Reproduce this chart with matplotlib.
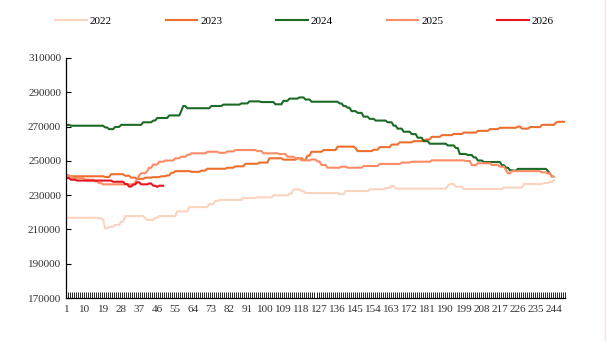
import numpy as np
import matplotlib
matplotlib.use("Agg")
import matplotlib.pyplot as plt
from matplotlib.lines import Line2D

# categories 1..249 (trading days)
n_days = 249
days = np.arange(1, n_days + 1)
tick_days = list(range(1, 245, 9))

# each series: day where a level starts, the level, and the last day
start_2022 = [1, 17, 19, 20, 22, 25, 28, 30, 40, 41, 45, 47, 56, 62, 72, 75, 77, 89, 96,
              104, 112, 114, 118, 120, 137, 140, 152, 160, 163, 165, 191, 192, 195, 199,
              219, 229, 239, 242, 244]
level_2022 = [216800, 216500, 215900, 210700, 211500, 212600, 214500, 217800, 216500,
              215500, 216800, 217800, 220500, 223000, 224800, 226600, 227200, 228300,
              228700, 229900, 230800, 233300, 232400, 231200, 230600, 232400, 233400,
              234200, 235300, 233800, 235300, 236500, 234900, 233600, 234400, 236500,
              237100, 237700, 238800]
end_2022 = 244

start_2023 = [1, 3, 20, 23, 30, 33, 36, 40, 44, 48, 51, 53, 55, 63, 68, 71, 81, 85, 90, 97,
              102, 109, 116, 119, 121, 123, 129, 136, 145, 146, 154, 157, 163, 167, 174,
              180, 183, 188, 194, 199, 206, 212, 217, 226, 228, 232, 238, 245, 246]
level_2023 = [241500, 241000, 240600, 242200, 241300, 240200, 239500, 240200, 240500,
              241000, 241500, 243000, 244000, 243600, 244300, 245400, 246000, 246800,
              248300, 249000, 251500, 250700, 251500, 250500, 253000, 255300, 256300,
              258300, 257500, 255700, 256500, 258000, 259500, 260800, 261500, 262500,
              264000, 265000, 265700, 266500, 267500, 268500, 269300, 270000, 268800,
              269700, 271000, 272300, 272800]
end_2023 = 249

start_2024 = [1, 3, 20, 22, 25, 28, 39, 44, 46, 52, 58, 59, 61, 73, 79, 88, 92, 98, 105,
              109, 112, 117, 120, 123, 137, 139, 141, 143, 146, 149, 152, 155, 161, 164,
              166, 169, 173, 176, 179, 182, 191, 195, 197, 201, 204, 206, 209, 218, 220,
              222, 224, 226, 241, 242, 243]
level_2024 = [271000, 270500, 269500, 268500, 269800, 271000, 272500, 273500, 275000,
              276500, 279000, 282000, 280700, 282000, 282800, 283500, 284700, 284300,
              283000, 285000, 286300, 287000, 285800, 284500, 283500, 282000, 281000,
              279000, 278000, 275800, 274500, 273500, 272500, 270500, 268800, 267000,
              265600, 263500, 261500, 260000, 259000, 257500, 254000, 253400, 252000,
              250200, 249300, 247500, 246000, 244500, 244300, 245300, 244000, 242500,
              241000]
end_2024 = 243

start_2025 = [1, 4, 10, 15, 17, 19, 35, 36, 37, 38, 41, 42, 44, 47, 50, 55, 58, 61, 63, 71,
              77, 81, 85, 96, 99, 107, 111, 115, 118, 123, 126, 128, 131, 138, 141, 149,
              157, 168, 173, 183, 200, 203, 206, 213, 217, 220, 221, 223, 238, 241, 243]
level_2025 = [241000, 240000, 239000, 238000, 237000, 236300, 237500, 239500, 241500,
              242800, 244000, 246000, 247800, 249500, 250200, 251500, 252400, 253500,
              254400, 255300, 254700, 255500, 256300, 255700, 254400, 254000, 252400,
              251500, 250300, 250800, 249600, 247600, 246000, 246600, 246000, 247000,
              248200, 249000, 249500, 250300, 249900, 247500, 248600, 247600, 246600,
              244800, 242700, 244000, 243300, 242700, 240800]
end_2025 = 244

start_2026 = [1, 3, 6, 24, 30, 32, 34, 36, 38, 42, 44, 46, 47]
level_2026 = [240000, 239000, 238500, 237800, 236500, 235000, 236200, 237500, 236300,
              236800, 235500, 234800, 235500]
end_2026 = 49

years = ["2022", "2023", "2024", "2025", "2026"]
colors = ["#FBD3BE", "#EE6F2D", "#1B6B27", "#FF8A66", "#E8141E"]


def expand(starts, levels, last):
    counts = np.diff(list(starts) + [last + 1])
    return np.repeat(levels, counts)


series = [
    expand(start_2022, level_2022, end_2022),
    expand(start_2023, level_2023, end_2023),
    expand(start_2024, level_2024, end_2024),
    expand(start_2025, level_2025, end_2025),
    expand(start_2026, level_2026, end_2026),
]

plt.rcParams['font.family'] = ['Liberation Serif', 'DejaVu Serif']

fig = plt.figure(figsize=(6.06, 3.41), dpi=100)
ax = fig.add_axes([66 / 606, 1 - 298 / 341, 499 / 606, 240 / 341])

for year, vals, col in zip(years, series, colors):
    ax.plot(days[:len(vals)], vals, color=col, linewidth=1.5, label=year)

ax.set_xlim(0.5, n_days + 0.5)
ax.set_ylim(170000, 310000)
ax.set_yticks(np.arange(170000, 310001, 20000))
ax.set_xticks(tick_days)
ax.set_xticks(np.arange(0.5, n_days + 1, 1), minor=True)

ax.tick_params(axis='y', direction='in', length=3.6, width=0.8, pad=3.5,
               labelsize=8, labelcolor='#333333')
ax.tick_params(axis='x', which='major', length=0, pad=5,
               labelsize=8, labelcolor='#333333')
ax.tick_params(axis='x', which='minor', direction='in', length=4.5, width=0.6)

for side in ['top', 'right']:
    ax.spines[side].set_visible(False)
for side in ['left', 'bottom']:
    ax.spines[side].set_linewidth(0.9)

fig.legend(loc='center left', bbox_to_anchor=(55 / 606, 1 - 21 / 341), ncol=5,
           frameon=False, fontsize=8, handlelength=2.85, handletextpad=0.27,
           columnspacing=4.85, borderpad=0, borderaxespad=0)

# light frame of the original image
fig.add_artist(Line2D([604.5 / 606, 604.5 / 606], [0, 1], transform=fig.transFigure,
                      color='#F2DCF2', linewidth=1))

fig.savefig('out.png', dpi=100)
